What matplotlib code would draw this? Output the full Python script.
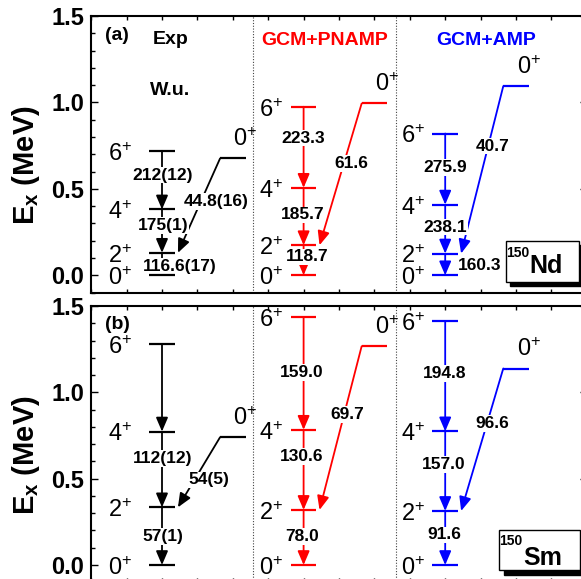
import matplotlib
matplotlib.use("Agg")
import matplotlib.pyplot as plt
from matplotlib.patches import Rectangle
from matplotlib.ticker import MultipleLocator

plt.rcParams['font.family'] = ['Liberation Sans', 'DejaVu Sans']
plt.rcParams['mathtext.fontset'] = 'custom'
plt.rcParams['mathtext.rm'] = 'Liberation Sans'
plt.rcParams['mathtext.bf'] = 'Liberation Sans:bold'
plt.rcParams['mathtext.it'] = 'Liberation Sans:italic'

# ── Data ──────────────────────────────────────────────────────────────────────
models = ['Exp', 'GCM+PNAMP', 'GCM+AMP']
colors = ['black', '#ff0000', '#0000ff']
spins = ['0', '2', '4', '6', '0']          # last one is the excited 0+

# level energies (MeV): 0+, 2+, 4+, 6+, 0+_2
nd_exp   = [0.0, 0.130, 0.381, 0.720, 0.676]
nd_pnamp = [0.0, 0.174, 0.506, 0.975, 0.994]
nd_amp   = [0.0, 0.126, 0.409, 0.820, 1.094]
sm_exp   = [0.0, 0.334, 0.773, 1.279, 0.740]
sm_pnamp = [0.0, 0.319, 0.783, 1.435, 1.267]
sm_amp   = [0.0, 0.313, 0.774, 1.412, 1.138]

# B(E2) in W.u.: 2->0, 4->2, 6->4, 0_2->2
nd_exp_be2   = ['116.6(17)', '175(1)', '212(12)', '44.8(16)']
nd_pnamp_be2 = ['118.7', '185.7', '223.3', '61.6']
nd_amp_be2   = ['160.3', '238.1', '275.9', '40.7']
sm_exp_be2   = ['57(1)', '112(12)', '', '54(5)']
sm_pnamp_be2 = ['78.0', '130.6', '159.0', '69.7']
sm_amp_be2   = ['91.6', '157.0', '194.8', '96.6']

# ── Layout (label positions in data units) ────────────────────────────────────
band_x = [2, 6, 10]
exc_x = [4, 8, 12]
half_w = 0.36
lab_dx = [-0.84, -0.58, -0.57]

nd_lab = [
    [(2.51, 0.05), (2.03, 0.29), (2.03, 0.58), (3.54, 0.426)],
    [(6.09, 0.106), (5.97, 0.349), (5.99, 0.794), (7.36, 0.648)],
    [(10.98, 0.054), (10.0, 0.279), (10.0, 0.622), (11.33, 0.748)],
]
sm_lab = [
    [(2.03, 0.164), (2.03, 0.619), (2.03, 1.0), (3.31, 0.493)],
    [(5.95, 0.164), (5.95, 0.629), (5.95, 1.113), (7.22, 0.871)],
    [(9.97, 0.174), (9.97, 0.584), (9.97, 1.107), (11.33, 0.818)],
]

AST = '-|>,head_length=0.7,head_width=0.3'


def arrow(ax, x0, y0, x1, y1, c):
    ax.annotate('', xy=(x1, y1), xytext=(x0, y0),
                arrowprops=dict(arrowstyle=AST, color=c, lw=1.3,
                                shrinkA=0, shrinkB=0, mutation_scale=12),
                zorder=2)


def draw_column(ax, k, E, be2, labs):
    c = colors[k]
    x = band_x[k]
    xe = exc_x[k]
    # in-band transitions
    for i in range(3):
        arrow(ax, x, E[i + 1], x, E[i], c)
    # excited 0+ -> 2+
    arrow(ax, xe - half_w, E[4], x + 0.45, E[1], c)
    # levels
    for i in range(4):
        ax.plot([x - half_w, x + half_w], [E[i], E[i]], color=c, lw=1.6,
                solid_capstyle='butt', zorder=4)
        ax.text(x + lab_dx[k], E[i] - 0.02, r'$%s^{+}$' % spins[i],
                fontsize=17, ha='right', va='center', zorder=5)
    ax.plot([xe - half_w, xe + half_w], [E[4], E[4]], color=c, lw=1.6,
            solid_capstyle='butt', zorder=4)
    ax.text(xe + half_w, E[4] + 0.11, r'$0^{+}$', fontsize=17,
            ha='center', va='center', zorder=5)
    # B(E2) labels
    for s, (lx, ly) in zip(be2, labs):
        if s:
            ax.text(lx, ly, s, fontsize=12.5, fontweight='bold', ha='center',
                    va='center', zorder=3,
                    bbox=dict(facecolor='white', edgecolor='none', pad=0.6))


# ── Figure ────────────────────────────────────────────────────────────────────
fig = plt.figure(figsize=(5.81, 5.79), dpi=100)
W, H = 581.0, 579.0
axA = fig.add_axes([91.2 / W, 1 - 292.6 / H, 495.6 / W, 276.6 / H])
axB = fig.add_axes([91.2 / W, 1 - 582.3 / H, 495.6 / W, 276.3 / H])

panels = [
    (axA, [nd_exp, nd_pnamp, nd_amp], [nd_exp_be2, nd_pnamp_be2, nd_amp_be2],
     nd_lab, '(a)'),
    (axB, [sm_exp, sm_pnamp, sm_amp], [sm_exp_be2, sm_pnamp_be2, sm_amp_be2],
     sm_lab, '(b)'),
]

for ax, Es, Bs, Ls, tag in panels:
    ax.set_xlim(0, 14)
    ax.set_ylim(-0.1, 1.5)
    for k in range(3):
        draw_column(ax, k, Es[k], Bs[k], Ls[k])
    for xd in (4.57, 8.6):
        ax.axvline(xd, color='#444444', lw=0.8, ls=(0, (1, 1.5)), zorder=1)

    ax.xaxis.set_major_locator(MultipleLocator(1))
    ax.yaxis.set_major_locator(MultipleLocator(0.5))
    ax.yaxis.set_minor_locator(MultipleLocator(0.1))
    ax.tick_params(axis='both', which='both', direction='in', top=True,
                   right=True, width=1)
    ax.tick_params(axis='x', which='major', length=3, labelbottom=False)
    ax.tick_params(axis='y', which='major', length=5, pad=5, labelsize=17)
    ax.tick_params(axis='y', which='minor', length=3)
    for lb in ax.get_yticklabels():
        lb.set_fontweight('bold')
    ax.yaxis.set_major_formatter(plt.FormatStrFormatter('%.1f'))
    for sp in ax.spines.values():
        sp.set_linewidth(1.5)

    ax.set_ylabel(r'E$_{\mathbf{x}}$ (MeV)', fontsize=21, fontweight='bold')
    ax.yaxis.set_label_coords(-0.10, 0.46)

    ax.text(0.73, 1.39, tag, fontsize=14, fontweight='bold', ha='center',
            va='center')

axA.text(2.23, 1.365, 'Exp', fontsize=14, fontweight='bold', ha='center',
         va='center')
axA.text(2.22, 1.07, 'W.u.', fontsize=14, fontweight='bold', ha='center',
         va='center')
axA.text(6.59, 1.36, 'GCM+PNAMP', fontsize=14, fontweight='bold',
         color=colors[1], ha='center', va='center')
axA.text(11.15, 1.36, 'GCM+AMP', fontsize=14, fontweight='bold',
         color=colors[2], ha='center', va='center')

# nucleus boxes with drop shadow (axes coords)
boxes = [
    (axA, 0.837, 0.0383, 0.147, 0.1483, 0.008, 0.0145),
    (axB, 0.823, 0.0445, 0.163, 0.1445, 0.009, 0.018),
]
for ax, x0, y0, w, h, dx, dy in boxes:
    ax.add_patch(Rectangle((x0 + dx, y0 - dy), w, h, transform=ax.transAxes,
                           facecolor='black', edgecolor='black', zorder=6,
                           clip_on=False))
    ax.add_patch(Rectangle((x0, y0), w, h, transform=ax.transAxes,
                           facecolor='white', edgecolor='black', lw=1,
                           zorder=7, clip_on=False))

axA.text(0.885, 0.071, 'Nd', transform=axA.transAxes, fontsize=18,
         fontweight='bold', ha='left', va='baseline', zorder=8)
axA.text(0.885, 0.129, '150', transform=axA.transAxes, fontsize=10,
         fontweight='bold', ha='right', va='baseline', zorder=8)
axB.text(0.871, 0.0626, 'Sm', transform=axB.transAxes, fontsize=18,
         fontweight='bold', ha='left', va='baseline', zorder=8)
axB.text(0.871, 0.135, '150', transform=axB.transAxes, fontsize=10,
         fontweight='bold', ha='right', va='baseline', zorder=8)

fig.savefig('out.png', dpi=100)
